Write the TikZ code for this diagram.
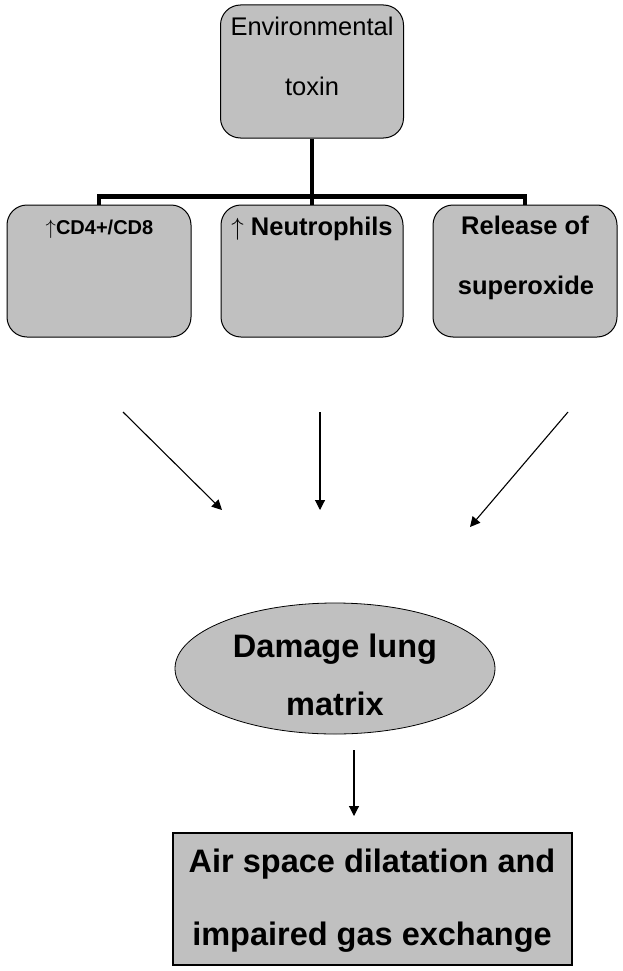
\documentclass[tikz,border=0pt]{standalone}
\usepackage{fontspec}
\setmainfont{Liberation Sans}
\usetikzlibrary{shapes.geometric,arrows.meta}
\definecolor{cinza}{HTML}{C0C0C0}

\begin{document}
\begin{tikzpicture}[x=1pt,y=-1pt,
    caixa/.style={draw=black,line width=1pt,fill=cinza,rounded corners=20pt,
      minimum width=184pt,minimum height=132pt,inner sep=0pt},
    elipse/.style={ellipse,draw=black,line width=0.8pt,fill=cinza,
      minimum width=320pt,minimum height=131pt,inner sep=0pt},
    quadro/.style={draw=black,line width=1.2pt,fill=cinza,
      minimum width=399pt,minimum height=132pt,inner sep=0pt},
    texto/.style={anchor=base,inner sep=0pt,font=\fontsize{25.5}{30}\selectfont},
    grande/.style={anchor=base,inner sep=0pt,font=\fontsize{32.5}{38}\selectfont\bfseries},
    tronco/.style={line width=4.5pt},
    seta/.style={line width=1.1pt,-{Triangle[length=10pt,width=10pt]}}]
  \useasboundingbox (0,0) rectangle (622,971);

  %caixas
  \node[caixa,minimum width=183pt,minimum height=133pt] (toxina) at (312,71.5) {};
  \node[caixa] (cd) at (99,271) {};
  \node[caixa,minimum width=182pt] (neut) at (312,271) {};
  \node[caixa] (sup) at (525,271) {};
  \node[elipse] (dano) at (335,668.5) {};
  \node[quadro] (troca) at (372.5,899) {};

  %textos
  \node[texto] (t1) at (312,36) {Environmental};
  \node[texto] (t2) at (312,96) {toxin};
  \node[texto,font=\fontsize{20}{24}\selectfont] (t3) at (99.5,234) {$\uparrow$\textbf{CD4+/CD8}};
  \node[texto] (t4) at (312,235) {$\uparrow$ \textbf{Neutrophils}};
  \node[texto,font=\fontsize{25.5}{30}\selectfont\bfseries] (t5) at (525,234) {Release of};
  \node[texto,font=\fontsize{25.5}{30}\selectfont\bfseries] (t6) at (526,294) {superoxide};
  \node[grande] (t7) at (335,657) {Damage lung};
  \node[grande] (t8) at (335,715) {matrix};
  \node[grande] (t9) at (372,872) {Air space dilatation and};
  \node[grande] (t10) at (372,945) {impaired gas exchange};

  %ligacoes grossas
  \draw[tronco] (toxina.south) -- ++(0,58) coordinate (hub);
  \draw[tronco] (cd.north) |- (hub) -| (sup.north);
  \draw[tronco] (hub) -- (neut.north);

  %setas
  \coordinate (s1) at (123,412);
  \coordinate (e1) at (222,510);
  \coordinate (s2) at (320,412);
  \coordinate (e2) at (320,510);
  \coordinate (s3) at (568,412);
  \coordinate (e3) at (470,527);
  \coordinate (s4) at (354,750);
  \coordinate (e4) at (354,816);
  \draw[seta] (s1) -- (e1);
  \draw[seta] (s2) -- (e2);
  \draw[seta] (s3) -- (e3);
  \draw[seta] (s4) -- (e4);
\end{tikzpicture}
\end{document}
